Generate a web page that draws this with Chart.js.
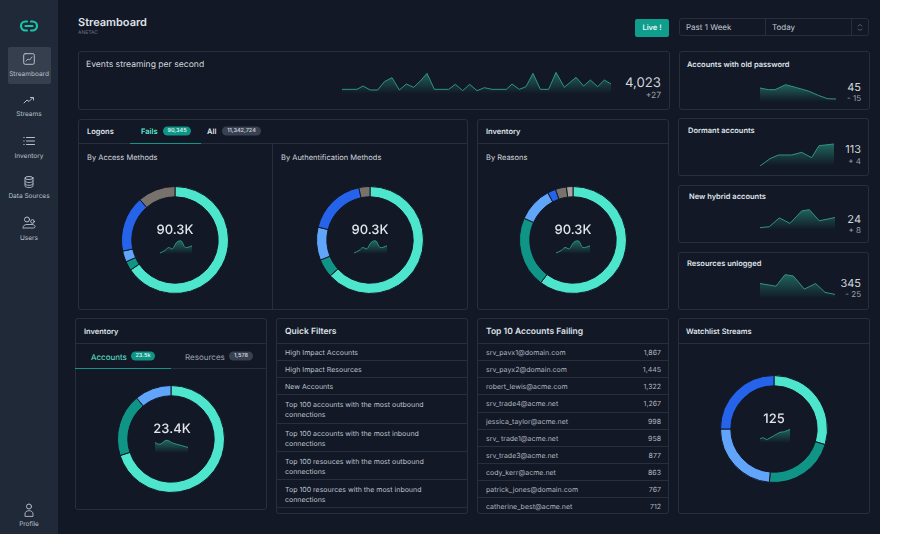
<!DOCTYPE html>
<html><head><meta charset="utf-8"><title>Streamboard</title>
<script src="https://cdn.jsdelivr.net/npm/chart.js@4"></script>
<style>
html,body{margin:0;padding:0;background:#fff;width:900px;height:534px;overflow:hidden;font-family:Inter,"Noto Sans",sans-serif;text-rendering:geometricPrecision}
#app{position:absolute;left:0;top:0;width:880px;height:534px;background:#121826;overflow:hidden}
#side{position:absolute;left:0;top:0;width:58px;height:534px;background:#1f2937}
#active{position:absolute;left:8px;top:47px;width:43px;height:37px;background:#353f4e;border-radius:2px}
.card{position:absolute;border:1px solid #272f3d;border-radius:3px;box-sizing:border-box}
.ln{position:absolute;height:1px;background:#272f3d}
.vl{position:absolute;width:1px;background:#272f3d}
.t{position:absolute;white-space:nowrap;transform:translateY(-50%);color:#d1d5db;line-height:1}
.c{transform:translate(-50%,-50%)}
.b{position:absolute;border-radius:5px;transform:translateY(-50%);height:9px;line-height:9px;text-align:center;font-size:5.5px;font-weight:600;color:#c9ced6;background:#374151}
.g{background:#0f9485;color:#d5f5ef}
canvas{position:absolute;display:block}
svg{position:absolute;fill:none;stroke:#b6bfcc;stroke-width:1;stroke-linecap:round;stroke-linejoin:round}
</style></head><body><div id="app"><div id="side"><div id="active"></div></div></div>
<script>
// ---- Donut data ----
const accessLabels=["Password","Token","SSO","Key","Other"];
const accessValues=[236,10,12,61,41];
const authLabels=["Password","Token","SSO","Key","Other"];
const authValues=[228,20,36,64,12];
const reasonLabels=["Expired","Locked","Policy","Network","Other","Unknown"];
const reasonValues=[217,77,38,9,12,7];
const inventoryLabels=["Human","Service","Shared"];
const inventoryValues=[252,68,40];
const watchLabels=["Critical","High","Medium","Low"];
const watchValues=[107,78,85,90];
const donutColors=["#4de5cc","#0f9485","#60a5fa","#2563eb","#78716c","#a8a29e"];
const watchColors=["#4de5cc","#0f9485","#60a5fa","#2563eb"];
const inventoryColors=["#4de5cc","#0f9485","#60a5fa"];
// ---- Sparkline data ----
const eventsT=[125,170,188,210,232,252,275,297,318,340,360,380,402,445,465,487,508,530,552,575,618,635,657,677,698,720,745,767,792,827,850,870,892,912,932];
const eventsV=[14,14,24,12,12,37,49,12,30,20,39,62,14,14,29,10,29,10,19,14,14,30,14,22,62,14,14,65,20,50,24,42,22,42,30];
const oldPwT=[420,445,465,497,530,565,595,622,648];
const oldPwV=[42,37,37,52,43,33,20,10,9];
const dormantT=[420,450,475,515,545,575,597,642];
const dormantV=[0,22,33,33,41,25,61,66];
const hybridT=[270,298,328,360,395,418,448,495];
const hybridV=[7,10,37,20,58,62,28,38];
const unloggedT=[270,318,345,370,403,437,465,495];
const unloggedV=[47,39,74,70,30,47,20,14];
const centerT=[255,270,280,292,305,318,330,350];
const centerV=[3,11,20,16,36,40,20,25];
const invSparkT=[255,270,290,310,335,355];
const invSparkV=[32,27,39,30,23,17];
const watchSparkT=[265,275,285,305,325,338,355];
const watchSparkV=[13,16,10,21,32,34,41];
// ---- Text data ----
const filterRows=["High Impact Accounts","High Impact Resources","New Accounts","Top 100 accounts with the most outbound connections","Top 100 accounts with the most inbound connections","Top 100 resouces with the most outbound connections","Top 100 resources with the most inbound connections"];
const accountNames=["srv_pavx1@domain.com","srv_payx2@domain.com","robert_lewis@acme.com","srv_trade4@acme.net","jessica_taylor@acme.net","srv_ trade1@acme.net","srv_trade3@acme.net","cody_kerr@acme.net","patrick_jones@domain.com","catherine_best@acme.net"];
const accountFails=["1,867","1,445","1,322","1,267","998","958","877","863","767","712"];

const app=document.getElementById('app');
function el(cls,css,txt){const d=document.createElement('div');d.className=cls;d.style.cssText=css;if(txt!==undefined)d.textContent=txt;app.appendChild(d);return d}
function card(x0,y0,x1,y1){el('card',`left:${x0}px;top:${y0}px;width:${x1-x0}px;height:${y1-y0}px`)}
function hl(x0,x1,y,col){el('ln',`left:${x0}px;width:${x1-x0}px;top:${y}px`+(col?`;background:${col}`:''))}
function vl(x,y0,y1){el('vl',`left:${x}px;top:${y0}px;height:${y1-y0}px`)}
function T(x,y,s,size,opt={}){
  let css=`top:${y}px;font-size:${size}px;`;
  if(opt.r)css+=`right:${880-x}px;`;else css+=`left:${x}px;`;
  if(opt.col)css+=`color:${opt.col};`;
  if(opt.w)css+=`font-weight:${opt.w};`;
  return el('t'+(opt.c?' c':''),css,s);
}
function H(x,y,s,size=7.5){T(x,y+.7,s,size,{w:600,col:'#dfe3e8'})}
function badge(x0,x1,y,s,green){el('b'+(green?' g':''),`left:${x0}px;width:${x1-x0}px;top:${y}px`,s)}

// Cards
card(78,51,670,110);card(679,51,870,110);
card(78,119,468,310);hl(78,468,143);vl(272,143,310);hl(130,201,143,'#0f9485');
card(477,119,669,310);hl(477,669,143);
card(678,118,869,176);card(678,185,869,243);card(678,252,869,310);
card(75,318,267,510);hl(75,267,343);hl(75,267,368);hl(75,171,368,'#0f9485');
card(276,318,468,514);card(477,318,669,514);card(678,318,870,514);hl(678,870,343);

// Header
T(78,22,'Streamboard',11,{w:600,col:'#dfe3e8'});
T(78,33,'ANETAC',5,{col:'#6b7280'});
el('t c',`left:652px;top:27.5px;width:34px;height:18px;background:#0f9d8c;border-radius:2px;line-height:18px;text-align:center;font-size:7.5px;font-weight:600;color:#e5f7f4`,'Live !');
card(679,18,869,36);vl(765,18,36);vl(851,18,36);
T(686,27.2,'Past 1 Week',8,{col:'#c2c9d3'});T(772,27.2,'Today',8,{col:'#c2c9d3'});

// Event card
T(86,64.6,'Events streaming per second',8.6,{col:'#d1d5db'});
T(661,84,'4,023',13.2,{r:1,col:'#d1d5db'});T(661,96,'+27',8.5,{r:1,col:'#9ca3af'});

// Logons
H(87,131,'Logons');T(141,131.5,'Fails',7.5,{w:600,col:'#5eead4'});badge(163,191,131,'90,345',1);
T(207,131.5,'All',7.5,{w:600,col:'#dfe3e8'});badge(222,261,131,'11,342,724');
T(87,157.5,'By Access Methods',7.5);T(281,157.5,'By Authentification Methods',7.5);
H(486,131,'Inventory');T(486,157.5,'By Reasons',7.5);

// Right stat cards
H(687,64,'Accounts with old password');T(861,87,'45',11,{r:1});T(861,98,'- 15',8,{r:1,col:'#9ca3af'});
H(688,130,'Dormant accounts');T(861,149,'113',11,{r:1});T(861,161,'+ 4',8,{r:1,col:'#9ca3af'});
H(689,196,'New hybrid accounts');T(861,219,'24',11,{r:1});T(861,230,'+ 8',8,{r:1,col:'#9ca3af'});
H(687,263,'Resources unlogged');T(861,283,'345',11,{r:1});T(861,294,'- 25',8,{r:1,col:'#9ca3af'});

// Inventory 2
H(84,331,'Inventory');T(91,356.5,'Accounts',8,{col:'#5eead4'});badge(131,155,356,'23.5k',1);
T(185,356.5,'Resources',8,{col:'#9ca3af'});badge(229,253,356,'1,578');

// Quick filters
H(285,331,'Quick Filters',8.5);
const filterLines=[343,360,377,394,423,451,479,507];
filterLines.forEach(y=>hl(276,468,y));
filterRows.forEach((s,i)=>{
  const y0=filterLines[i],y1=filterLines[i+1];
  if(i<3){T(285,(y0+y1)/2,s,7,{col:'#bcc2cb'})}
  else{const k=s.lastIndexOf(' ');T(285,y0+10,s.slice(0,k),7,{col:'#bcc2cb'});T(285,y0+19.5,s.slice(k+1),7,{col:'#bcc2cb'})}
});
// Top 10
H(486,331,'Top 10 Accounts Failing',8.5);
const topLines=[343,360,377,394,412,429,446,463,480,497];
topLines.forEach(y=>hl(477,669,y));
accountNames.forEach((s,i)=>{
  const y=topLines[i]+8.5;
  T(486,y,s,7,{col:'#aeb4be'});T(661,y,accountFails[i],7,{r:1,col:'#aeb4be'});
});
H(686,331,'Watchlist Streams');

// Side nav
const navItems=[['Streamboard',73.5],['Streams',113.5],['Inventory',155.5],['Data Sources',195.5],['Users',237.5],['Profile',523.5]];
navItems.forEach(([s,y])=>T(29,y,s,6.5,{c:1,col:'#b9c0cc'}));
function svg(x,y,w,h,inner,stroke){const n=document.createElementNS('http://www.w3.org/2000/svg','svg');n.setAttribute('width',w);n.setAttribute('height',h);n.setAttribute('viewBox',`0 0 ${w} ${h}`);n.style.left=x+'px';n.style.top=y+'px';if(stroke)n.style.stroke=stroke;n.innerHTML=inner;app.appendChild(n)}
svg(19,18,20,16,'<path d="M8 3.5H6.5a4.5 4.5 0 0 0 0 9H8M12 3.5h1.5a4.5 4.5 0 0 1 0 9H12M6.5 8h7" stroke-width="2.2"/>','#1cc4a8');
svg(23,53,12,12,'<rect x=".7" y=".7" width="10.6" height="10.6" rx="1.5"/><path d="M3 8l2-2 1.5 1L9 4" stroke-width=".9"/>');
svg(23,95,12,10,'<path d="M1 8l3-3 2 1.5L10 2.5M7.5 2.5H10.5V5" stroke-width="1"/>');
svg(23,136,12,10,'<path d="M3.5 1.5H11.5M3.5 5H11.5M3.5 8.5H11.5M.8 1.5h.4M.8 5h.4M.8 8.5h.4" stroke-width="1"/>');
svg(24,176,10,12,'<ellipse cx="5" cy="2" rx="4" ry="1.5"/><path d="M1 2v8c0 .8 1.8 1.5 4 1.5s4-.7 4-1.5V2M1 5c0 .8 1.8 1.5 4 1.5S9 5.800 9 5M1 7.800c0 .8 1.800 1.500 4 1.500s4-.7 4-1.500" stroke-width=".9"/>');
svg(22,216,14,14,'<circle cx="5" cy="3.500" r="2.500"/><circle cx="10.500" cy="5.500" r="1.800"/><path d="M1 12c0-2.500 1.500-3.500 4-3.500h5c2 0 3 1 3 2s-.5 1.500-1.500 1.500H2z" stroke-width=".9"/>');
svg(24,503,10,14,'<circle cx="5" cy="3.500" r="2.500"/><path d="M1 13v-2c0-2 1.500-3.300 4-3.300s4 1.300 4 3.300v2z" stroke-width=".9"/>');
svg(857,23,6,9,'<path d="M1 3l2-1.500L5 3M1 6l2 1.500L5 6" stroke-width=".7"/>','#6b7280');

// ---- Charts ----
function canvas(x,y,w,h){const c=document.createElement('canvas');c.width=w;c.height=h;c.style.cssText=`left:${x}px;top:${y}px;width:${w}px;height:${h}px`;app.appendChild(c);return c}
function donut(cx,cy,labels,values,colors){
  const S=110;
  new Chart(canvas(cx-S/2,cy-S/2,S,S),{type:'doughnut',data:{labels,datasets:[{data:values,backgroundColor:colors,borderColor:'#121826',borderWidth:1,borderAlign:'center'}]},
    options:{responsive:false,animation:false,radius:53.5,cutout:44,rotation:0,plugins:{legend:{display:false},tooltip:{enabled:false}}}});
}
function spark(x,y,w,h,xs,ys,yMax,tension=0){
  const c=canvas(x,y,w,h);
  new Chart(c,{type:'line',data:{datasets:[{data:xs.map((t,i)=>({x:t,y:ys[i]})),borderColor:'#2f9485',borderWidth:1,pointRadius:0,tension,fill:'origin',
    backgroundColor(ctx){const g=ctx.chart.ctx.createLinearGradient(0,0,0,h);g.addColorStop(0,'rgba(45,160,140,.62)');g.addColorStop(1,'rgba(45,160,140,0)');return g}}]},
    options:{responsive:false,animation:false,layout:{padding:0},clip:false,
      scales:{x:{type:'linear',display:false,min:xs[0],max:xs[xs.length-1],offset:false},y:{display:false,min:0,max:yMax}},
      plugins:{legend:{display:false},tooltip:{enabled:false}}}});
}
donut(175,240,accessLabels,accessValues,donutColors);
donut(370,240,authLabels,authValues,donutColors);
donut(573,240,reasonLabels,reasonValues,donutColors);
donut(171,439,inventoryLabels,inventoryValues,inventoryColors);
donut(774,429,watchLabels,watchValues,watchColors);
[[175,230,'90.3K'],[370,230,'90.3K'],[573,230,'90.3K'],[172,429,'23.4K'],[774,419,'125']].forEach(([x,y,s])=>T(x,y,s,13,{c:1,w:500,col:'#e2e5ea'}));

spark(342,70,269,24,eventsT,eventsV,72);
spark(760,82,76,20,oldPwT,oldPwV,60);
spark(760,142,74,24,dormantT,dormantV,72);
spark(760,207,75,23,hybridT,hybridV,70);
spark(760,272,75,27,unloggedT,unloggedV,82);
spark(160,240,32,14,centerT,centerV,43,.35);
spark(354,240,33,14,centerT,centerV,43,.35);
spark(556,240,34,14,centerT,centerV,43,.35);
spark(155,439,33,14,invSparkT,invSparkV,43,.35);
spark(760,428,30,15,watchSparkT,watchSparkV,45,.1);
</script></body></html>
